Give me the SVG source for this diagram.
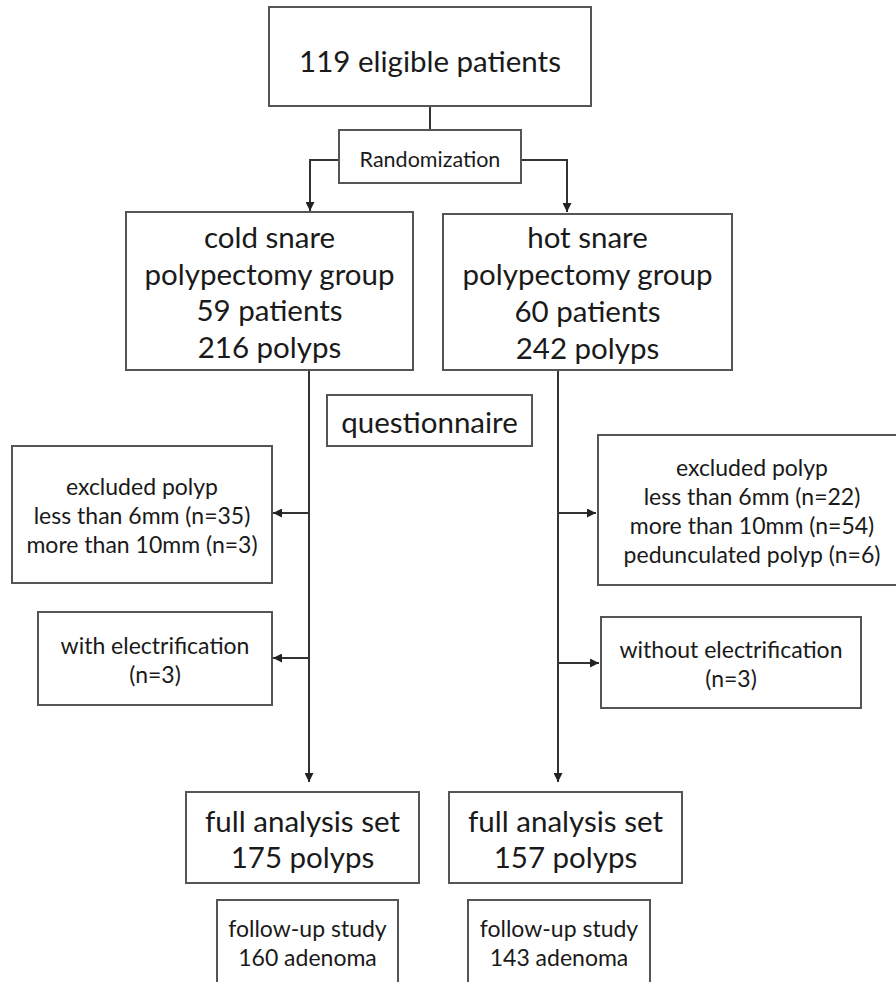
<svg xmlns="http://www.w3.org/2000/svg" width="896" height="982" viewBox="0 0 896 982">
<defs>
<marker id="ah" viewBox="0 0 10 10" refX="10" refY="5" markerWidth="9" markerHeight="9" markerUnits="userSpaceOnUse" orient="auto">
<path d="M0,0 L10,5 L0,10 z" fill="#222"/>
</marker>
<style>
rect{fill:#fff;stroke:#555;stroke-width:2}
text{font-family:Lato,"Open Sans","Liberation Sans",sans-serif;fill:#1a1a1a;text-anchor:middle}
.l{font-size:29.5px}
.m{font-size:23px}
.r{font-size:21.5px}
#connectors path{fill:none;stroke:#333;stroke-width:2}
</style>
</defs>
<rect x="0" y="0" width="896" height="982" style="stroke:none"/>
<g id="connectors">
<path d="M430,106 V130"/>
<path d="M339,160 H310 V211" marker-end="url(#ah)"/>
<path d="M521,160 H567 V212" marker-end="url(#ah)"/>
<path d="M309,370 V782" marker-end="url(#ah)"/>
<path d="M309,513 H273" marker-end="url(#ah)"/>
<path d="M309,658 H273" marker-end="url(#ah)"/>
<path d="M558,370 V782" marker-end="url(#ah)"/>
<path d="M558,513 H596" marker-end="url(#ah)"/>
<path d="M558,663 H599" marker-end="url(#ah)"/>
</g>
<g id="eligible">
<rect x="269" y="7" width="322" height="99"/>
<text class="l" x="430" y="72">119 eligible patients</text>
</g>
<g id="randomization">
<rect x="339" y="130" width="182" height="53"/>
<text class="r" x="430" y="167">Randomization</text>
</g>
<g id="cold">
<rect x="126" y="212" width="287" height="158"/>
<text class="l" x="269.5" y="248">cold snare</text>
<text class="l" x="269.5" y="285">polypectomy group</text>
<text class="l" x="269.5" y="321">59 patients</text>
<text class="l" x="269.5" y="358">216 polyps</text>
</g>
<g id="hot">
<rect x="443" y="214" width="289" height="156"/>
<text class="l" x="587.5" y="248">hot snare</text>
<text class="l" x="587.5" y="285">polypectomy group</text>
<text class="l" x="587.5" y="322">60 patients</text>
<text class="l" x="587.5" y="359">242 polyps</text>
</g>
<g id="questionnaire">
<rect x="327" y="395" width="205" height="51"/>
<text class="l" x="429.5" y="433">questionnaire</text>
</g>
<g id="excluded-cold">
<rect x="12" y="446" width="260" height="137"/>
<text class="m" x="142" y="495">excluded polyp</text>
<text class="m" x="142" y="524">less than 6mm (n=35)</text>
<text class="m" x="142" y="553">more than 10mm (n=3)</text>
</g>
<g id="with-electrification">
<rect x="38" y="612" width="234" height="93"/>
<text class="m" x="155" y="654">with electrification</text>
<text class="m" x="155" y="683">(n=3)</text>
</g>
<g id="excluded-hot">
<rect x="598" y="435" width="300" height="150"/>
<text class="m" x="752" y="476">excluded polyp</text>
<text class="m" x="752" y="505">less than 6mm (n=22)</text>
<text class="m" x="752" y="534">more than 10mm (n=54)</text>
<text class="m" x="752" y="563">pedunculated polyp (n=6)</text>
</g>
<g id="without-electrification">
<rect x="601" y="617" width="260" height="91"/>
<text class="m" x="731" y="658">without electrification</text>
<text class="m" x="731" y="687">(n=3)</text>
</g>
<g id="fas-cold">
<rect x="186" y="792" width="233" height="91"/>
<text class="l" x="302.5" y="832">full analysis set</text>
<text class="l" x="302.5" y="868">175 polyps</text>
</g>
<g id="fas-hot">
<rect x="449" y="792" width="233" height="91"/>
<text class="l" x="565.5" y="832">full analysis set</text>
<text class="l" x="565.5" y="868">157 polyps</text>
</g>
<g id="followup-cold">
<rect x="217" y="900" width="181" height="90"/>
<text class="m" x="307.5" y="937">follow-up study</text>
<text class="m" x="307.5" y="966">160 adenoma</text>
</g>
<g id="followup-hot">
<rect x="468" y="900" width="182" height="90"/>
<text class="m" x="559" y="937">follow-up study</text>
<text class="m" x="559" y="966">143 adenoma</text>
</g>
</svg>
